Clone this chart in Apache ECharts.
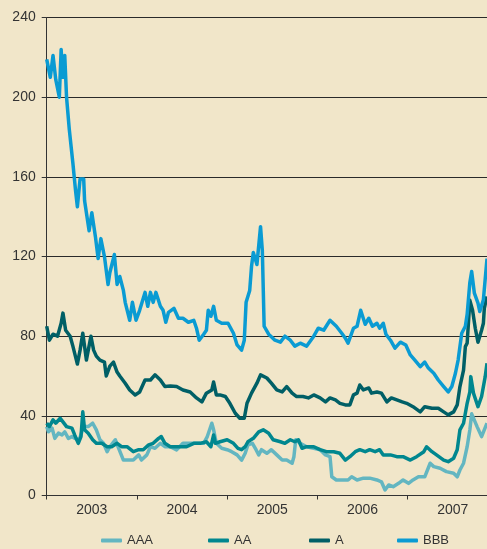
<!DOCTYPE html>
<html>
<head>
<meta charset="utf-8">
<script src="https://cdn.jsdelivr.net/npm/echarts@6/dist/echarts.min.js"></script>
<style>
html,body{margin:0;padding:0;background:#f1e6c9;}
#chart{width:487px;height:549px;}
</style>
</head>
<body>
<div id="chart"></div>
<script>
const seriesNames = ['AAA', 'AA', 'A', 'BBB'];
const yTicks = [0, 40, 80, 120, 160, 200, 240];
const years = [2003, 2004, 2005, 2006, 2007];

const aaa = [[2003.00,34.6],[2003.02,32],[2003.06,33.8],[2003.09,28.7],[2003.13,31.3],[2003.17,30.4],[2003.20,32],[2003.24,28.7],[2003.28,29.6],[2003.31,28.7],[2003.36,28],[2003.41,34.6],[2003.46,34.6],[2003.51,36.3],[2003.55,33],[2003.59,28],[2003.63,26.2],[2003.67,22],[2003.70,24.5],[2003.76,28],[2003.79,24.5],[2003.85,17.8],[2003.90,17.8],[2003.96,17.8],[2004.02,20.4],[2004.05,17.8],[2004.11,20.4],[2004.15,24.5],[2004.20,23.7],[2004.26,26.2],[2004.31,24.5],[2004.37,24.5],[2004.44,22.9],[2004.51,26.2],[2004.59,26.2],[2004.66,26.2],[2004.74,26.2],[2004.78,29.6],[2004.83,36.3],[2004.85,33],[2004.88,26.2],[2004.94,23.7],[2005.00,23],[2005.05,22],[2005.11,20.4],[2005.16,17.8],[2005.20,21.2],[2005.23,25.4],[2005.28,26.2],[2005.32,23],[2005.35,20.4],[2005.38,23],[2005.44,21.2],[2005.49,23],[2005.55,20.4],[2005.61,17.8],[2005.66,17.8],[2005.72,16.2],[2005.74,19.5],[2005.76,28],[2005.81,26.2],[2005.88,24.5],[2005.96,23.7],[2006.03,23],[2006.09,20.4],[2006.14,19.5],[2006.16,9.4],[2006.21,7.8],[2006.29,7.8],[2006.34,7.8],[2006.38,9.4],[2006.44,7.8],[2006.51,8.7],[2006.58,8.7],[2006.66,7.8],[2006.71,6.9],[2006.75,2.8],[2006.79,5.3],[2006.84,4.4],[2006.90,6.1],[2006.95,7.8],[2007.01,6.1],[2007.06,7.8],[2007.12,9.4],[2007.19,9.4],[2007.25,16.2],[2007.29,14.5],[2007.36,13.7],[2007.43,12],[2007.51,11.2],[2007.55,9.4],[2007.58,12.8],[2007.62,16.2],[2007.66,24.5],[2007.69,33],[2007.71,41],[2007.77,34.6],[2007.82,29.6],[2007.88,36.3]];

const aa = [[2003.00,36.3],[2003.03,34.6],[2003.07,38],[2003.10,36.3],[2003.15,38.8],[2003.18,37],[2003.22,34.6],[2003.28,33.8],[2003.31,30.4],[2003.35,26.2],[2003.38,29.6],[2003.40,42],[2003.42,33],[2003.46,31.3],[2003.51,28],[2003.55,26.2],[2003.61,26.2],[2003.67,24.5],[2003.72,24.5],[2003.78,26.2],[2003.83,24.5],[2003.89,24.5],[2003.96,22],[2004.02,23],[2004.07,23],[2004.13,25.4],[2004.18,26.2],[2004.24,28.7],[2004.27,29.6],[2004.31,26.2],[2004.37,24.5],[2004.42,24.5],[2004.48,24.5],[2004.55,24.5],[2004.63,26.2],[2004.70,26.2],[2004.77,27],[2004.82,24.5],[2004.85,30.4],[2004.87,26.2],[2004.92,27],[2005.00,28],[2005.07,26.2],[2005.12,23.7],[2005.16,23],[2005.20,24.5],[2005.23,27],[2005.29,28.7],[2005.35,32],[2005.40,33],[2005.46,31.3],[2005.51,28],[2005.59,27],[2005.64,26.2],[2005.70,28],[2005.75,27],[2005.79,28],[2005.83,23.7],[2005.88,24.5],[2005.96,24.5],[2006.03,23],[2006.10,22],[2006.18,22],[2006.25,21.2],[2006.31,17.8],[2006.36,19.5],[2006.42,22],[2006.47,23],[2006.53,22],[2006.58,23],[2006.64,22],[2006.69,23],[2006.73,20.4],[2006.81,20.4],[2006.88,19.5],[2006.95,19.5],[2007.03,17.8],[2007.10,19.5],[2007.18,22],[2007.21,24.5],[2007.27,22],[2007.32,20.4],[2007.40,17.8],[2007.45,17],[2007.51,18.7],[2007.55,23],[2007.58,33],[2007.62,36.3],[2007.66,46.3],[2007.69,52],[2007.70,59.7],[2007.73,51.4],[2007.78,44.6],[2007.82,49.7],[2007.86,59.7],[2007.88,66.4]];

const a = [[2003.00,85],[2003.03,78],[2003.07,81],[2003.12,80],[2003.16,86.5],[2003.18,91.6],[2003.21,83],[2003.26,80],[2003.29,75],[2003.34,66],[2003.37,73],[2003.40,81.5],[2003.44,68],[2003.49,80],[2003.52,73],[2003.55,70],[2003.59,68],[2003.64,67],[2003.66,60],[2003.70,65],[2003.74,67],[2003.78,62],[2003.81,60],[2003.87,56.4],[2003.92,53],[2003.98,50.5],[2004.03,52],[2004.09,58],[2004.15,58],[2004.20,60.6],[2004.26,58],[2004.31,54.7],[2004.37,55],[2004.44,54.7],[2004.51,53],[2004.59,52],[2004.66,49],[2004.72,47],[2004.77,51.4],[2004.83,53],[2004.85,57],[2004.88,50.5],[2004.92,50.5],[2004.98,49.7],[2005.03,46.3],[2005.09,41.3],[2005.14,38.8],[2005.19,38.8],[2005.22,46.3],[2005.27,51.4],[2005.33,56.4],[2005.37,60.6],[2005.44,59],[2005.49,56.4],[2005.55,53],[2005.61,52],[2005.66,54.7],[2005.72,51.4],[2005.77,49.7],[2005.84,49.7],[2005.90,49],[2005.96,50.5],[2006.03,49],[2006.09,47],[2006.14,49],[2006.20,48],[2006.25,46.3],[2006.31,45.5],[2006.36,45.5],[2006.40,50.5],[2006.44,51.4],[2006.47,55.5],[2006.51,53],[2006.57,54],[2006.60,51.4],[2006.66,52],[2006.71,51.4],[2006.77,47],[2006.82,49],[2006.88,48],[2006.94,47],[2006.99,46.3],[2007.06,44.6],[2007.14,42],[2007.19,44.6],[2007.27,43.8],[2007.34,43.8],[2007.40,42],[2007.45,40.5],[2007.51,42],[2007.55,45.5],[2007.58,54.7],[2007.62,63],[2007.64,74.8],[2007.66,76.5],[2007.69,98],[2007.72,93],[2007.75,84],[2007.78,77],[2007.80,78],[2007.82,83],[2007.84,86.5],[2007.85,94],[2007.88,100]];

const bbb = [[2003.00,219],[2003.04,210],[2003.07,221],[2003.10,209],[2003.14,200],[2003.16,224],[2003.18,210],[2003.20,221],[2003.22,200],[2003.25,184],[2003.29,167],[2003.32,153],[2003.34,145],[2003.37,159],[2003.41,159],[2003.42,148],[2003.44,147],[2003.47,133],[2003.50,142],[2003.54,130],[2003.57,119],[2003.60,129],[2003.64,120],[2003.68,106],[2003.70,112],[2003.75,121],[2003.78,106],[2003.81,110],[2003.85,103],[2003.87,97],[2003.92,88],[2003.95,97],[2003.99,88],[2004.03,93],[2004.09,102],[2004.12,95],[2004.15,102],[2004.18,97],[2004.21,102],[2004.26,95],[2004.29,93],[2004.32,87],[2004.35,92],[2004.41,94],[2004.46,89],[2004.51,89],[2004.57,87],[2004.63,88],[2004.66,84],[2004.69,78],[2004.74,81],[2004.77,83],[2004.79,93],[2004.82,90],[2004.85,95],[2004.88,88],[2004.94,86.5],[2005.01,86.5],[2005.07,81.5],[2005.11,75.6],[2005.16,73],[2005.19,78],[2005.21,97],[2005.25,103],[2005.27,115],[2005.29,122],[2005.33,116],[2005.37,135],[2005.39,123],[2005.41,85],[2005.42,85],[2005.46,81],[2005.53,78],[2005.59,77],[2005.64,80],[2005.70,78],[2005.75,75],[2005.81,76.5],[2005.88,75],[2005.96,80],[2006.01,84],[2006.07,83],[2006.14,88],[2006.21,85],[2006.27,81.5],[2006.31,79],[2006.34,76.5],[2006.40,84],[2006.44,85],[2006.48,93],[2006.53,86],[2006.57,89],[2006.61,85],[2006.66,86.5],[2006.69,84],[2006.73,86.5],[2006.76,81],[2006.81,78],[2006.86,74],[2006.92,77],[2006.98,75.6],[2007.03,70.6],[2007.08,68],[2007.14,64.7],[2007.19,67],[2007.23,64],[2007.29,61.4],[2007.34,58],[2007.40,54.7],[2007.45,52],[2007.49,54.7],[2007.53,61.4],[2007.56,68],[2007.60,81.5],[2007.64,85],[2007.66,91],[2007.69,107],[2007.71,112.5],[2007.74,101.6],[2007.78,96.6],[2007.80,92.4],[2007.84,98.3],[2007.88,119]];

const colors = ['#63b6c1', '#00878f', '#005f66', '#0a9bd3'];
const seriesData = [aaa, aa, a, bbb];
const xMin = years[0], xMax = 2007.88;
const legendLeft = [101, 208, 309, 397];

const chart = echarts.init(document.getElementById('chart'));
const axisColor = '#333';
const txt = {color: '#333', fontFamily: 'Liberation Sans, Arial, sans-serif', fontSize: 14};

chart.setOption({
  backgroundColor: '#f1e6c9',
  animation: false,
  color: colors,
  grid: {left: 46.7, right: 0, top: 17.6, bottom: 53.5, containLabel: false},
  legend: seriesNames.map((n, i) => ({
    data: [n], left: legendLeft[i], top: 534, padding: 0, icon: 'roundRect',
    itemWidth: 21, itemHeight: 4, itemGap: 0,
    textStyle: Object.assign({}, txt, {fontSize: 13})
  })),
  xAxis: [{
    type: 'value', min: xMin, max: xMax, interval: 1,
    axisLine: {show: true, lineStyle: {color: axisColor, width: 1}},
    axisTick: {show: true, inside: false, length: 4, lineStyle: {color: axisColor}},
    axisLabel: {show: false},
    splitLine: {show: false}
  }, {
    type: 'value', min: xMin, max: xMax, interval: 0.5, position: 'bottom',
    axisLine: {show: false}, axisTick: {show: false}, splitLine: {show: false},
    axisLabel: Object.assign({}, txt, {margin: 8, showMinLabel: false, showMaxLabel: false,
      formatter: v => (Math.abs(v % 1 - 0.5) < 1e-6 ? String(Math.floor(v)) : '')})
  }],
  yAxis: {
    type: 'value', min: yTicks[0], max: yTicks[yTicks.length - 1], interval: 40,
    axisLine: {show: true, lineStyle: {color: axisColor, width: 1}},
    axisTick: {show: true, inside: false, length: 5, lineStyle: {color: axisColor}},
    axisLabel: Object.assign({}, txt, {margin: 11}),
    splitLine: {show: true, lineStyle: {color: '#2a2a2a', width: 1}}
  },
  series: seriesNames.map((n, i) => ({
    name: n, type: 'line', data: seriesData[i], xAxisIndex: 0,
    showSymbol: false, symbol: 'none',
    lineStyle: {width: 3.5, color: colors[i], join: 'round'},
    itemStyle: {color: colors[i]}
  }))
});
</script>
</body>
</html>
